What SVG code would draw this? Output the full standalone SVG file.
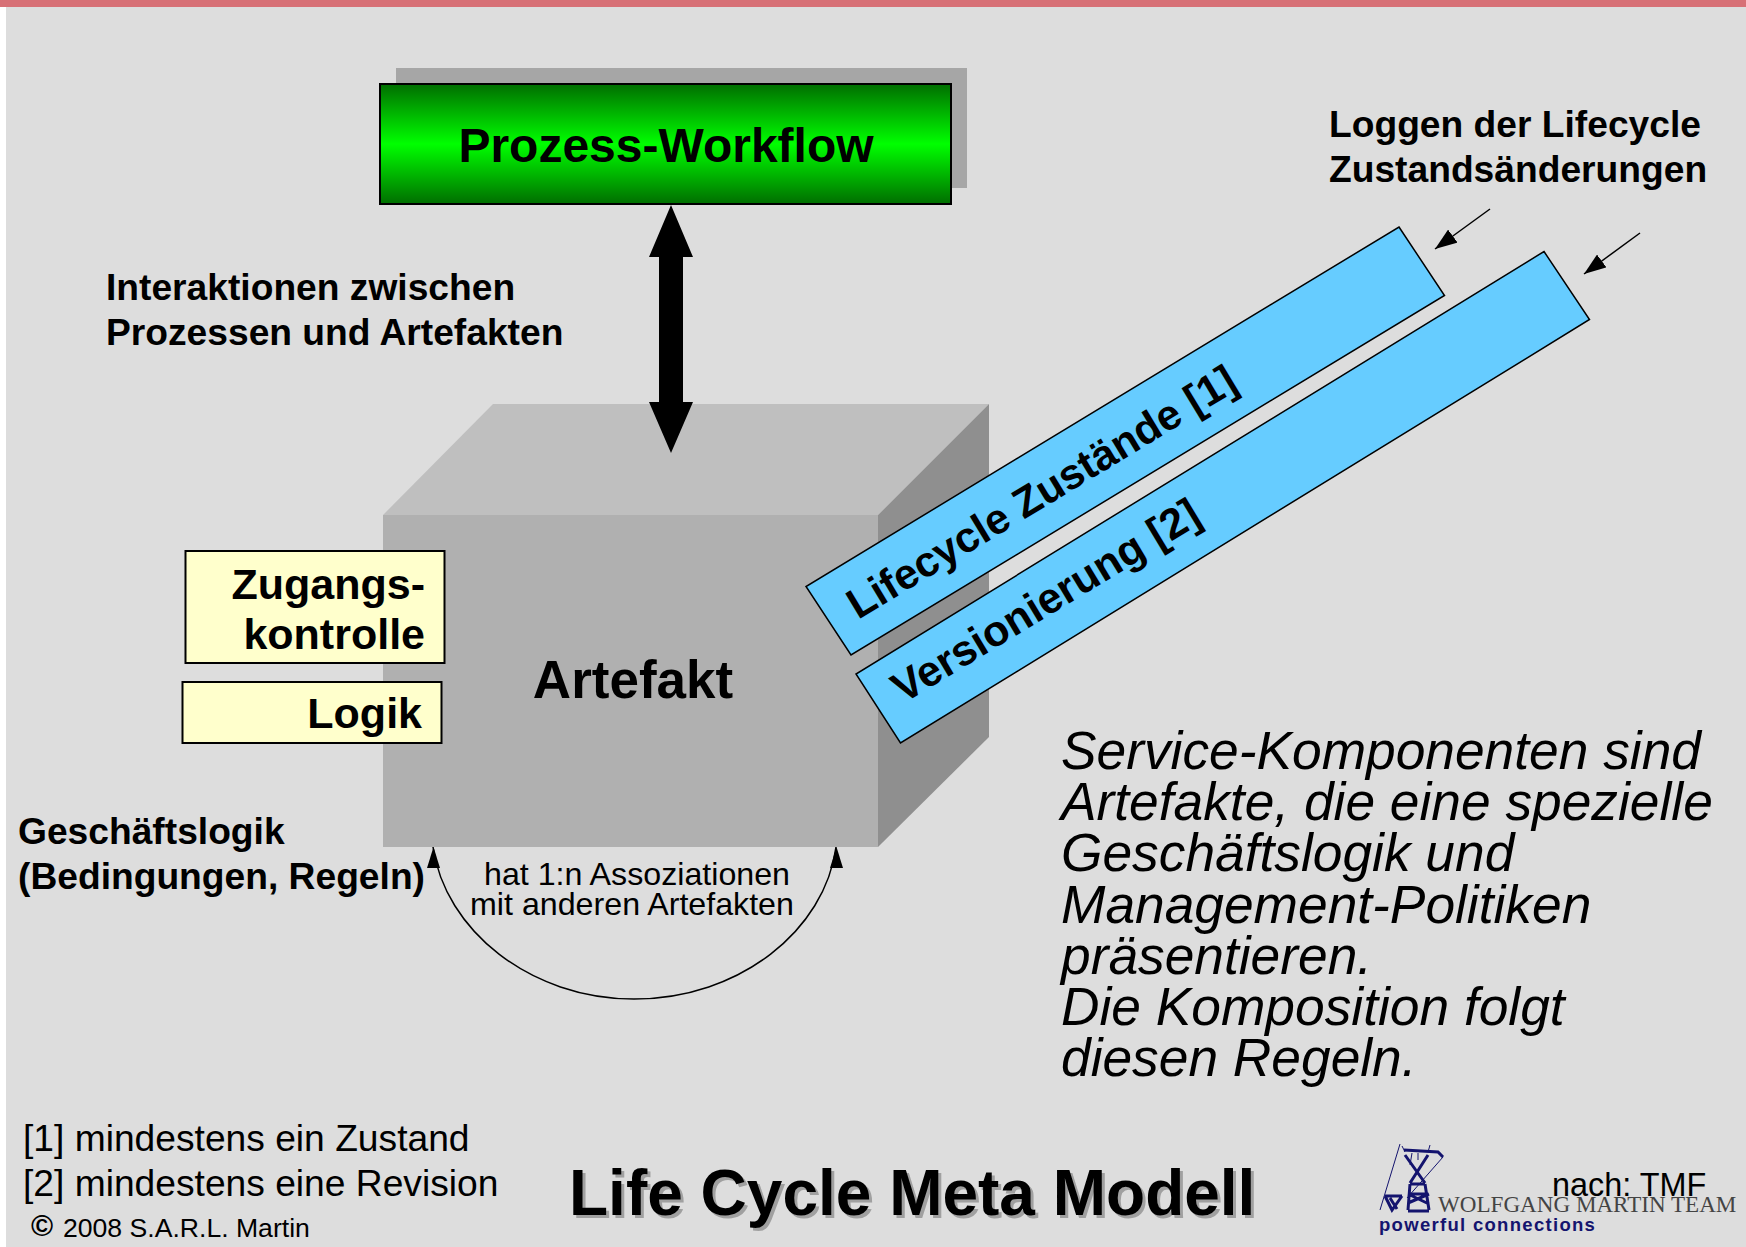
<svg xmlns="http://www.w3.org/2000/svg" width="1746" height="1247" viewBox="0 0 1746 1247">
<style>
text{font-family:"Liberation Sans",Arial,sans-serif;fill:#000}
.b{font-weight:700}
.lbl{font-size:37.200px;font-weight:700}
.box{font-size:43px;font-weight:700;text-anchor:end}
.it{font-size:53.300px;font-style:italic}
.foot{font-size:37.200px}
.ass{font-size:32.200px;text-anchor:middle}
.para{fill:#66ccff;stroke:#000;stroke-width:1.5}
.yel{fill:#ffffcc;stroke:#000;stroke-width:2}
.conn{fill:none;stroke:#000;stroke-width:1.5}
.pyl{fill:none;stroke:#14146e;stroke-width:1}
.pyt{fill:none;stroke:#14146e;stroke-width:3}
</style>
<defs>
<linearGradient id="g" x1="0" y1="0" x2="0" y2="1">
<stop offset="0" stop-color="#006e00"/><stop offset=".5" stop-color="#00ff00"/><stop offset="1" stop-color="#006e00"/>
</linearGradient>
<marker id="ah" markerUnits="userSpaceOnUse" markerWidth="24" markerHeight="16" refX="22" refY="8" orient="auto"><path d="M0 0L22 8L0 16Z" fill="#000"/></marker>
</defs>
<rect width="1746" height="1247" fill="#ffffff"/>
<rect x="6" y="0" width="1740" height="1247" fill="#dddddd"/>
<rect width="1746" height="7" fill="#d77076"/>
<g id="cube">
<path d="M383 515L493 404H989L878 515Z" fill="#bfbfbf"/>
<path d="M878 515L989 404V737L878 847Z" fill="#8f8f8f"/>
<rect x="383" y="515" width="495" height="332" fill="#b0b0b0"/>
<text x="633" y="698" class="b" font-size="53" text-anchor="middle">Artefakt</text>
</g>
<g id="workflow">
<rect x="396" y="68" width="571" height="120" fill="#a6a6a6"/>
<rect x="380" y="84" width="571" height="120" fill="url(#g)" stroke="#000" stroke-width="2"/>
<text x="666" y="162" class="b" font-size="48" text-anchor="middle">Prozess-Workflow</text>
</g>
<g id="connectors">
<path id="double-arrow" d="M671 205L693 257H683V402H693L671 453L649 402H659V257H649Z" fill="#000"/>
<path class="conn" d="M1490 209L1435 249" marker-end="url(#ah)"/>
<path class="conn" d="M1640 233L1584 274" marker-end="url(#ah)"/>
<path class="conn" d="M836 847C825 930 740 999 634 999C530 999 445 930 433 847"/>
<path d="M433.500 847L440 868H427Z" fill="#000"/>
<path d="M836.500 847L843 868H830Z" fill="#000"/>
</g>
<g id="lifecycle">
<path class="para" d="M1399 227L1444.500 295.500L851 655L806 586.500Z"/>
<text transform="translate(858 620) rotate(-31.200)" class="b" font-size="42.500">Lifecycle Zustände [1]</text>
</g>
<g id="versionierung">
<path class="para" d="M1544 251.500L1589.500 319.500L900.500 743L856 674Z"/>
<text transform="translate(903 704) rotate(-31.200)" class="b" font-size="43">Versionierung [2]</text>
</g>
<g id="zugang">
<rect class="yel" x="185.500" y="551" width="259" height="112"/>
<text x="425" y="599" class="box">Zugangs-</text>
<text x="425" y="649" class="box">kontrolle</text>
</g>
<g id="logik">
<rect class="yel" x="182.500" y="682" width="259" height="61"/>
<text x="422" y="728" class="box">Logik</text>
</g>
<g id="labels">
<text x="1329" y="137" class="lbl">Loggen der Lifecycle</text>
<text x="1329" y="182" class="lbl">Zustandsänderungen</text>
<text x="106" y="300" class="lbl">Interaktionen zwischen</text>
<text x="106" y="345" class="lbl">Prozessen und Artefakten</text>
<text x="18" y="844" class="lbl">Geschäftslogik</text>
<text x="18" y="889" class="lbl">(Bedingungen, Regeln)</text>
<text x="637" y="885" class="ass">hat 1:n Assoziationen</text>
<text x="632" y="915" class="ass">mit anderen Artefakten</text>
<text x="1061" y="769" class="it">Service-Komponenten sind</text>
<text x="1061" y="820" class="it">Artefakte, die eine spezielle</text>
<text x="1061" y="871" class="it">Geschäftslogik und</text>
<text x="1061" y="923" class="it">Management-Politiken</text>
<text x="1061" y="974" class="it">präsentieren.</text>
<text x="1061" y="1025" class="it">Die Komposition folgt</text>
<text x="1061" y="1076" class="it">diesen Regeln.</text>
<text x="23" y="1151" class="foot">[1] mindestens ein Zustand</text>
<text x="23" y="1196" class="foot">[2] mindestens eine Revision</text>
<text x="31" y="1236" class="b" font-size="30">©</text>
<text x="63" y="1237" font-size="26.600">2008 S.A.R.L. Martin</text>
<text x="572" y="1218" font-size="64" class="b" style="fill:#a0a0a0">Life Cycle Meta Modell</text>
<text x="569" y="1215" font-size="64" class="b">Life Cycle Meta Modell</text>
</g>
<g id="logo">
<path class="pyl" d="M1400 1144L1380 1210M1443 1157L1407 1198M1430 1145L1428 1152M1402 1146L1405 1152M1418 1153V1160M1412 1153L1410 1165"/>
<path class="pyt" d="M1404 1150L1438 1152L1443 1157M1405 1155L1425 1183M1428 1155L1410 1183M1410 1184H1425M1410 1184L1408 1210M1425 1184L1429 1210M1409 1194H1428M1408 1203L1429 1194M1408 1194L1429 1204M1408 1211H1429M1385 1196H1402M1385 1196L1392 1210L1402 1196M1390 1198L1397 1209"/>
<text x="1438" y="1212" font-size="23.100" style="font-family:'Liberation Serif',serif;fill:#444">WOLFGANG MARTIN TEAM</text>
<text x="1379" y="1231" font-size="18.500" letter-spacing="1.300" class="b" style="fill:#14146e">powerful connections</text>
<text x="1552" y="1196" font-size="32.400">nach: TMF</text>
</g>
</svg>
